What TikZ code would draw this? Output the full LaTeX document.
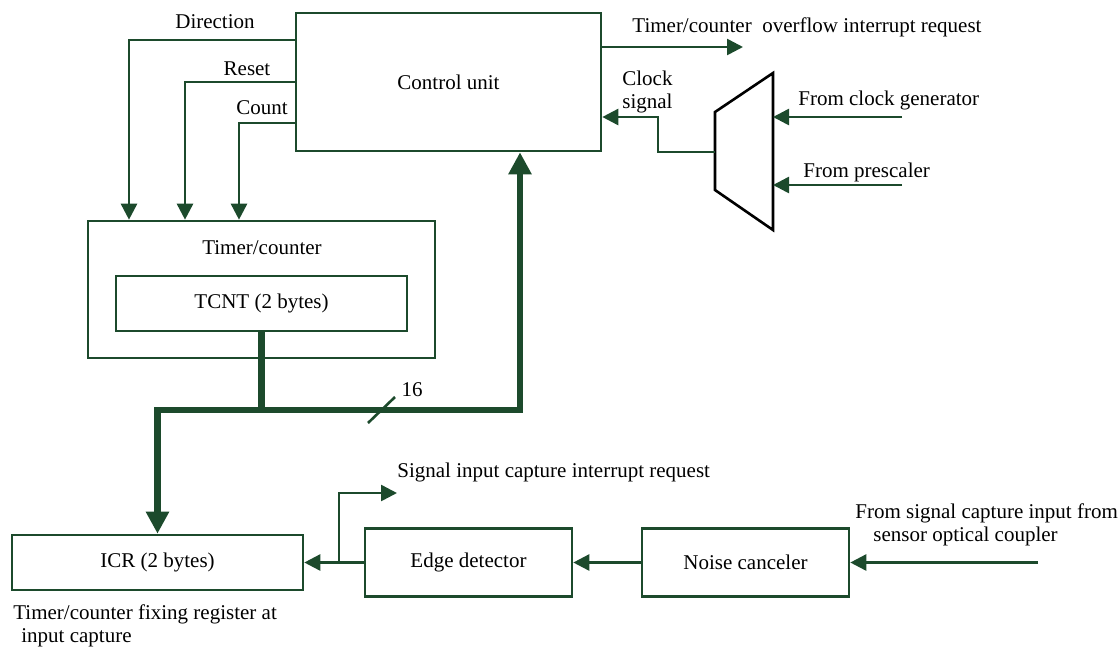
\documentclass[tikz,border=0pt]{standalone}
\usepackage{fontspec}
\setmainfont{Liberation Serif}
\usepackage{tikz}
\usetikzlibrary{arrows.meta}
\definecolor{wire}{RGB}{28,74,44}

\begin{document}
\begin{tikzpicture}[x=0.5pt, y=-0.5pt,
  every node/.style={font=\fontsize{10.5}{11.5}\selectfont, inner sep=0pt},
  blk/.style={draw=wire, line width=1.3pt, rectangle},
  sig/.style={-{Triangle[length=8pt,width=8pt]}, color=wire, line width=1.3pt},
  bus/.style={{Triangle[length=11pt,width=11pt]}-{Triangle[length=11pt,width=11pt]}, color=wire, line width=3.2pt}
]
\useasboundingbox (0,0) rectangle (1120,650);

% Blocks
\node[blk, minimum width=152.5pt, minimum height=69pt] (ctrl) at (448.5,82) {Control unit};
\node[blk, minimum width=173.5pt, minimum height=68.5pt] (timer) at (261.5,289.5) {};
\node (timertxt) at (262,248) {Timer/counter};
\node[blk, minimum width=145.5pt, minimum height=27.5pt] (tcnt) at (261.5,303.5) {TCNT (2 bytes)};
\node[blk, minimum width=145.5pt, minimum height=27.5pt] (icr) at (157.5,562.5) {ICR (2 bytes)};
\node[blk, minimum width=103.5pt, minimum height=34pt] (edge) at (468.5,562.5) {Edge detector};
\node[blk, minimum width=103.5pt, minimum height=34pt] (noise) at (745.5,562.5) {Noise canceler};

% Clock selector
\draw[line width=1.3pt, line join=miter] (715,112) -- (773,73) -- (773,230) -- (715,190) -- cycle;
\coordinate (muxout) at (715,152);
\coordinate (muxin1) at (773,117);
\coordinate (muxin2) at (773,185);

% Free ends
\coordinate (clkgen) at (902,117);
\coordinate (presc) at (902,185);
\coordinate (ovf) at (743,47);
\coordinate (sirq) at (397,493);
\coordinate (tap) at (339,562.5);
\coordinate (capin) at (1038,562.5);

% Control lines
\draw[sig] (ctrl.west |- 0,40) -| (timer.north -| 129,0);
\draw[sig] (ctrl.west |- 0,82) -| (timer.north -| 185,0);
\draw[sig] (ctrl.west |- 0,123) -| (timer.north -| 239,0);
\draw[sig] (ctrl.east |- 0,47) -- (ovf);
\draw[sig] (muxout) -| (658,117) -- (ctrl.east |- 0,117);
\draw[sig] (clkgen) -- (muxin1);
\draw[sig] (presc) -- (muxin2);

% Data bus
\draw[color=wire, line width=3.2pt] (tcnt.south) -- (tcnt.south |- 0,410);
\draw[bus] (icr.north) |- (520,410) -- (ctrl.south -| 520,0);
\draw[color=wire, line width=1.3pt] (368,423) -- (395,397);
\node (bw) at (412,390) {16};

% Capture path
\draw[sig] (edge.west) -- (icr.east);
\draw[sig] (tap) |- (sirq);
\draw[sig] (noise.west) -- (edge.east);
\draw[sig] (capin) -- (noise.east);

% Labels
\node (dirlbl) at (215,22) {Direction};
\node (rstlbl) at (247,69) {Reset};
\node (cntlbl) at (262,108) {Count};
\node[anchor=west] (ovflbl) at (632,27) {Timer/counter\ \ overflow interrupt request};
\node[anchor=west, align=left] (clklbl) at (622,92) {Clock\\signal};
\node[anchor=west] (genlbl) at (798,100) {From clock generator};
\node[anchor=west] (prelbl) at (803,172) {From prescaler};
\node[anchor=west] (sirqlbl) at (397,472) {Signal input capture interrupt request};
\node[anchor=west, align=left] (caplbl) at (855,525) {From signal capture input from\\\hspace{9pt}sensor optical coupler};
\node[anchor=north west, align=left] (icrlbl) at (13,604) {Timer/counter fixing register at\\\hspace{4pt}input capture};
\end{tikzpicture}
\end{document}
